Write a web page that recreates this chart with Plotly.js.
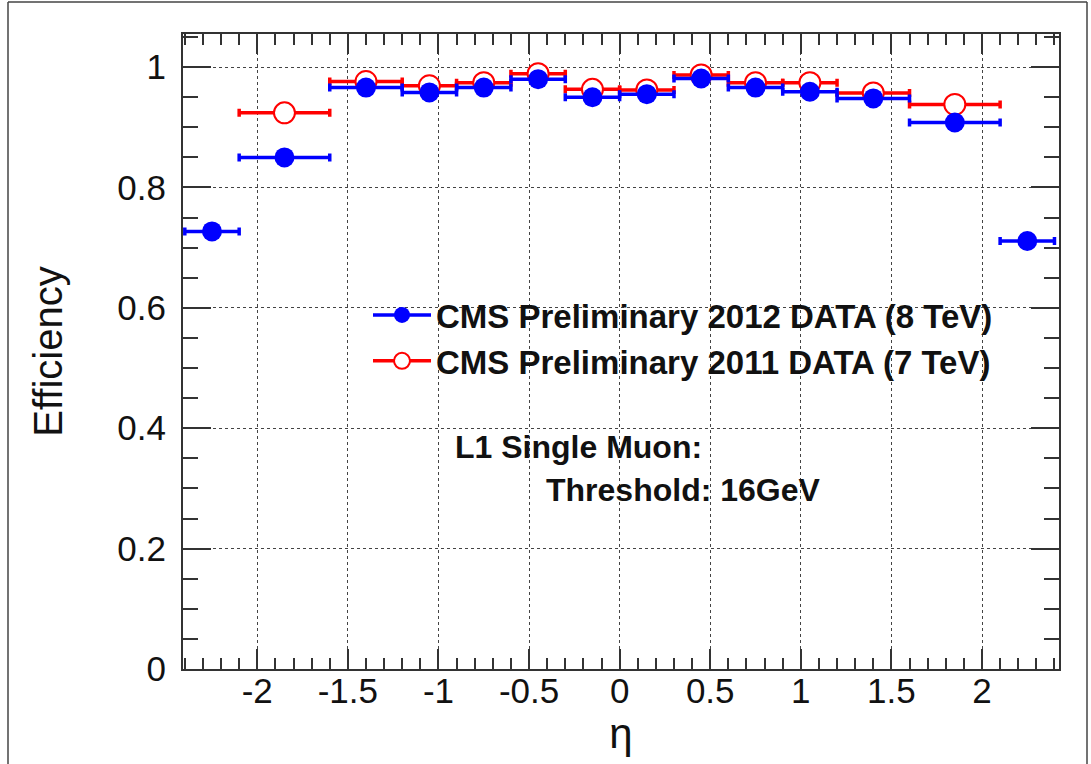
<!DOCTYPE html>
<html>
<head>
<meta charset="utf-8">
<script src="https://cdn.plot.ly/plotly-3.0.1.min.js"></script>
<style>html,body{margin:0;padding:0;background:#fff;}#chart{width:1091px;height:764px;}</style>
</head>
<body>
<div id="chart"></div>
<script>
// Bin edges in eta
var binLow2012  = [-2.4, -2.1, -1.6, -1.2, -0.9, -0.6, -0.3, 0.0, 0.3, 0.6, 0.9, 1.2, 1.6, 2.1];
var binHigh2012 = [-2.1, -1.6, -1.2, -0.9, -0.6, -0.3, 0.0, 0.3, 0.6, 0.9, 1.2, 1.6, 2.1, 2.4];
var eff2012     = [0.727, 0.850, 0.966, 0.958, 0.966, 0.980, 0.950, 0.955, 0.981, 0.966, 0.959, 0.948, 0.908, 0.711];

var binLow2011  = [-2.1, -1.6, -1.2, -0.9, -0.6, -0.3, 0.0, 0.3, 0.6, 0.9, 1.2, 1.6];
var binHigh2011 = [-1.6, -1.2, -0.9, -0.6, -0.3, 0.0, 0.3, 0.6, 0.9, 1.2, 1.6, 2.1];
var eff2011     = [0.924, 0.976, 0.969, 0.974, 0.989, 0.963, 0.962, 0.987, 0.974, 0.974, 0.957, 0.938];

var xTickVals = [-2, -1.5, -1, -0.5, 0, 0.5, 1, 1.5, 2];
var xTickText = ["-2", "-1.5", "-1", "-0.5", "0", "0.5", "1", "1.5", "2"];

var label2012 = "CMS Preliminary 2012 DATA (8 TeV)";
var label2011 = "CMS Preliminary 2011 DATA (7 TeV)";
var note1 = "L1 Single Muon:";
var note2 = "Threshold: 16GeV";

function centers(lo, hi) { return lo.map(function (v, i) { return (v + hi[i]) / 2; }); }
function halfw(lo, hi) { return lo.map(function (v, i) { return (hi[i] - v) / 2; }); }

var BLUE = "#0000ff", RED = "#ff0000";

var t2011 = {
  x: centers(binLow2011, binHigh2011), y: eff2011, type: "scatter", mode: "markers",
  showlegend: false, hoverinfo: "x+y",
  marker: {symbol: "circle", size: 21, color: "#ffffff", line: {color: RED, width: 2}},
  error_x: {type: "data", array: halfw(binLow2011, binHigh2011), color: RED, thickness: 3.5, width: 4}
};
var t2012 = {
  x: centers(binLow2012, binHigh2012), y: eff2012, type: "scatter", mode: "markers",
  showlegend: false, hoverinfo: "x+y",
  marker: {symbol: "circle", size: 20, color: BLUE, line: {color: BLUE, width: 0}},
  error_x: {type: "data", array: halfw(binLow2012, binHigh2012), color: BLUE, thickness: 3.5, width: 4}
};
var leg2012 = {
  x: [null], y: [null], type: "scatter", mode: "lines+markers", name: label2012,
  line: {color: BLUE, width: 3.5}, marker: {symbol: "circle", size: 18, color: BLUE}
};
var leg2011 = {
  x: [null], y: [null], type: "scatter", mode: "lines+markers", name: label2011,
  line: {color: RED, width: 3.5}, marker: {symbol: "circle", size: 18, color: "#ffffff", line: {color: RED, width: 2}}
};

var L = 183, R = 32, T = 34, B = 95, W = 1091, H = 764;
var pw = W - L - R, ph = H - T - B;
function px(x) { return (x - L) / pw; }
function py(y) { return 1 - (y - T) / ph; }

var FAM = "Liberation Sans, Arial, sans-serif";
var axisFont = {family: FAM, size: 35, color: "#111"};

var layout = {
  width: W, height: H,
  margin: {l: L, r: R, t: T, b: B, pad: 0},
  paper_bgcolor: "#ffffff", plot_bgcolor: "#ffffff",
  showlegend: true,
  legend: {
    x: px(368), y: py(287), xanchor: "left", yanchor: "top",
    bgcolor: "rgba(0,0,0,0)", borderwidth: 0,
    font: {family: FAM, size: 33, color: "#111", weight: "bold"},
    itemwidth: 58, tracegroupgap: 0
  },
  xaxis: {
    range: [-2.41, 2.425], autorange: false,
    tickmode: "array", tickvals: xTickVals, ticktext: xTickText,
    ticks: "inside", ticklen: 20, tickwidth: 2, tickcolor: "#333",
    showline: true, linecolor: "#333", linewidth: 2, mirror: "allticks",
    showgrid: true, gridcolor: "#444", gridwidth: 1, griddash: "dot",
    zeroline: false, tickfont: axisFont, ticklabelstandoff: -10,
    minor: {tick0: 0, dtick: 0.1, ticks: "inside", ticklen: 11, tickwidth: 2, tickcolor: "#333", showgrid: false},
    title: {text: "η", font: {family: FAM, size: 42, color: "#111"}, standoff: 4}
  },
  yaxis: {
    range: [0, 1.055], autorange: false,
    tick0: 0, dtick: 0.2,
    ticks: "inside", ticklen: 28, tickwidth: 2, tickcolor: "#333",
    showline: true, linecolor: "#333", linewidth: 2, mirror: "allticks",
    showgrid: true, gridcolor: "#444", gridwidth: 1, griddash: "dot",
    zeroline: false, tickfont: axisFont, ticklabelstandoff: 8,
    minor: {tick0: 0, dtick: 0.05, ticks: "inside", ticklen: 15, tickwidth: 2, tickcolor: "#333", showgrid: false},
    title: {text: "Efficiency", font: {family: FAM, size: 40, color: "#111"}, standoff: 42}
  },
  annotations: [
    {xref: "x", yref: "y", x: -0.92, y: 0.369, xanchor: "left", yanchor: "middle", showarrow: false,
     text: note1, font: {family: FAM, size: 32, color: "#111", weight: "bold"}},
    {xref: "x", yref: "y", x: -0.42, y: 0.297, xanchor: "left", yanchor: "middle", showarrow: false,
     text: note2, font: {family: FAM, size: 32, color: "#111", weight: "bold"}}
  ],
  shapes: [
    {type: "line", xref: "paper", yref: "paper", x0: px(8), x1: px(8), y0: py(2), y1: py(764), line: {color: "#444", width: 1.5}},
    {type: "line", xref: "paper", yref: "paper", x0: px(8), x1: px(1087), y0: py(2), y1: py(2), line: {color: "#444", width: 1.5}},
    {type: "line", xref: "paper", yref: "paper", x0: px(1087), x1: px(1087), y0: py(2), y1: py(764), line: {color: "#444", width: 1.5}}
  ]
};

Plotly.newPlot("chart", [t2011, t2012, leg2012, leg2011], layout, {displayModeBar: false, staticPlot: true});
</script>
</body>
</html>
